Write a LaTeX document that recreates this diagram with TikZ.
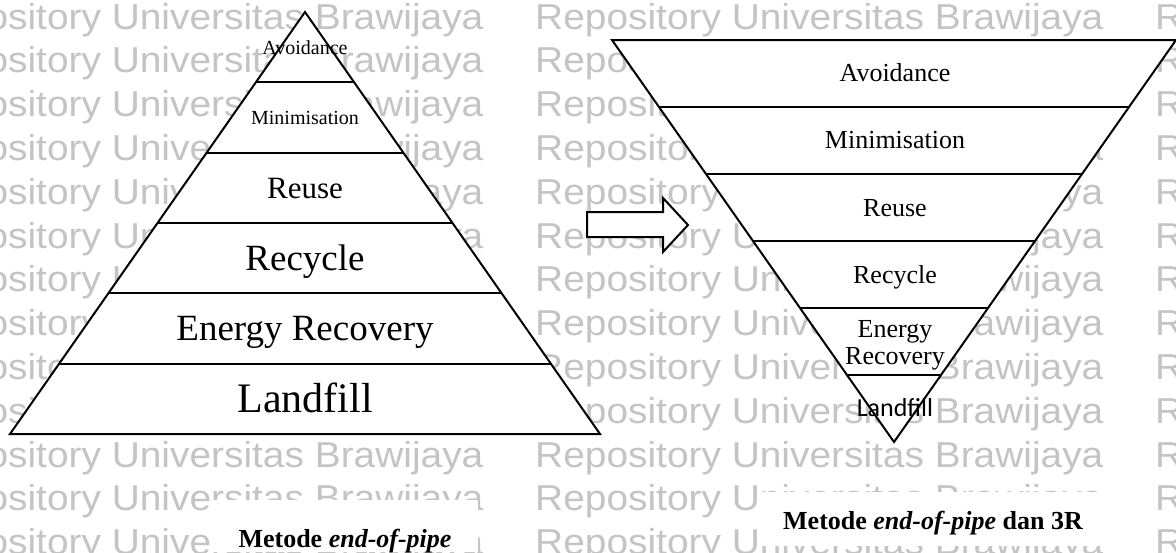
\documentclass[tikz,border=0pt]{standalone}
\usepackage{fontspec}
\setmainfont{Liberation Serif}
\newfontfamily\wmfont[FakeStretch=1.08]{Liberation Sans}
\newfontfamily\calfont{Carlito}
\newcommand{\fsz}[1]{\fontsize{#1}{#1}\selectfont}
\definecolor{wmgray}{RGB}{196,196,196}
\tikzset{
  wm/.style={anchor=base west, inner sep=0pt, text=wmgray, font=\wmfont\fsz{36}},
  pyr/.style={draw=black, line width=2pt, fill=white},
  layer/.style={draw=black, line width=2pt},
  lbl/.style={anchor=base, inner sep=0pt, text=black},
  captext/.style={anchor=base, inner sep=0pt, text=black, font=\bfseries\fsz{26}}
}
\begin{document}
\begin{tikzpicture}[x=1pt,y=-1pt]
\useasboundingbox (0,0) rectangle (1176,552);
\clip (0,0) rectangle (1176,552);
\fill[white] (0,0) rectangle (1176,552);
% watermark
\foreach \k in {0,...,12}{
  \foreach \c [count=\i] in {-85,535,1155}{
    \node[wm] (wm-\k-\i) at (\c, {29+43.8*\k}) {Repository Universitas Brawijaya};
  }
}
% left pyramid
\path[pyr] (305,12) -- (600,434) -- (10,434) -- cycle;
\draw[layer] (255.8,82.33) -- (354.2,82.33);
\draw[layer] (206.7,152.67) -- (403.3,152.67);
\draw[layer] (157.5,223) -- (452.5,223);
\draw[layer] (108.3,293.33) -- (501.7,293.33);
\draw[layer] (59.2,363.67) -- (550.8,363.67);
\node[lbl, font=\fsz{20}] (l-avoid) at (305,54) {Avoidance};
\node[lbl, font=\fsz{20}] (l-mini) at (305,124.5) {Minimisation};
\node[lbl, font=\fsz{31}] (l-reuse) at (305,198) {Reuse};
\node[lbl, font=\fsz{37}] (l-recy) at (305,270) {Recycle};
\node[lbl, font=\fsz{37}] (l-energy) at (305,340) {Energy Recovery};
\node[lbl, font=\fsz{42}] (l-land) at (305,412) {Landfill};
% arrow
\path[pyr] (587,212) -- (663,212) -- (663,198) -- (688,225) -- (663,252) -- (663,237) -- (587,237) -- cycle;
% right inverted pyramid
\path[pyr] (612,40) -- (1176,40) -- (894,442) -- cycle;
\draw[layer] (659,107) -- (1129,107);
\draw[layer] (706,174) -- (1082,174);
\draw[layer] (753,241) -- (1035,241);
\draw[layer] (800,308) -- (988,308);
\draw[layer] (847,375) -- (941,375);
\node[lbl, font=\fsz{26}] (r-avoid) at (895,81.5) {Avoidance};
\node[lbl, font=\fsz{26}] (r-mini) at (895,148.5) {Minimisation};
\node[lbl, font=\fsz{26}] (r-reuse) at (895,216) {Reuse};
\node[lbl, font=\fsz{26}] (r-recy) at (895,283) {Recycle};
\node[lbl, font=\fsz{26}] (r-energy) at (895,337) {Energy};
\node[lbl, font=\fsz{26}] (r-recov) at (895,364) {Recovery};
\node[lbl, font=\calfont\fsz{26}] (r-land) at (895,416) {Landfill};
% captions
\fill[white] (210,500) rectangle (478,552);
\fill[white] (758,492) rectangle (1106,546);
\node[captext] (cap-left) at (345,547) {Metode \textit{end-of-pipe}};
\node[captext] (cap-right) at (933,529) {Metode \textit{end-of-pipe} dan 3R};
\end{tikzpicture}
\end{document}
